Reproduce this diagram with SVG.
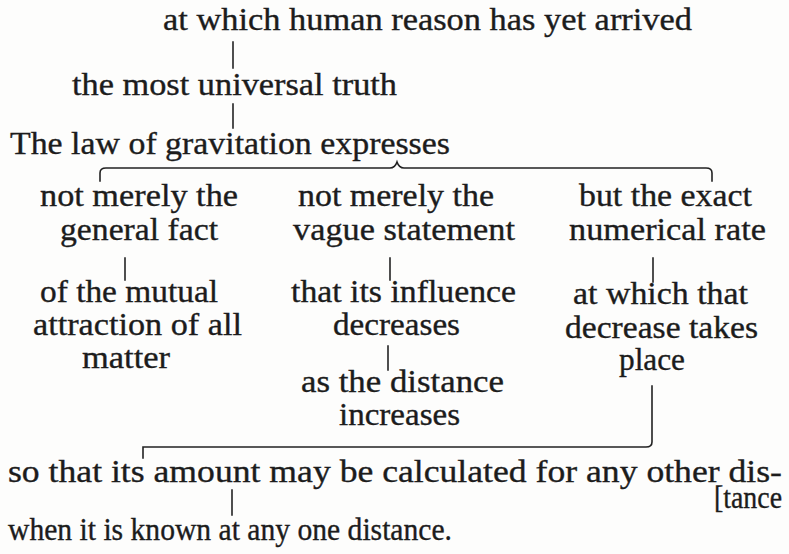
<svg xmlns="http://www.w3.org/2000/svg" width="789" height="554" viewBox="0 0 789 554">
<style>
.t{font-family:"Liberation Serif","Times New Roman",serif;font-size:31px;fill:#1c1c1c;stroke:#1c1c1c;stroke-width:0.35}
.c{fill:none;stroke:#222;stroke-width:1.6;stroke-linecap:square}
</style>
<rect x="0" y="0" width="789" height="554" fill="#fdfdfc"/>
<g id="connectors">
<line class="c" x1="233" y1="42" x2="233" y2="68"/>
<line class="c" x1="233" y1="104" x2="233" y2="128"/>
<path class="c" d="M100,181 L100,173 Q100,168 106,168 L390,168 Q395,168 397,162 Q399,168 404,168 L706,168 Q712,168 712,173 L712,181"/>
<line class="c" x1="125" y1="258" x2="125" y2="280"/>
<line class="c" x1="390" y1="258" x2="390" y2="280"/>
<line class="c" x1="653" y1="258" x2="653" y2="282"/>
<line class="c" x1="388" y1="346" x2="388" y2="370"/>
<path class="c" d="M652,386 L652,442 Q652,447 646,447 L143,447 L143,458"/>
<line class="c" x1="232" y1="490" x2="232" y2="515"/>
</g>
<g id="n1"><text class="t" x="163" y="30" textLength="529" lengthAdjust="spacingAndGlyphs">at which human reason has yet arrived</text></g>
<g id="n2"><text class="t" x="72" y="95" textLength="325" lengthAdjust="spacingAndGlyphs">the most universal truth</text></g>
<g id="n3"><text class="t" x="10" y="154" textLength="440" lengthAdjust="spacingAndGlyphs">The law of gravitation expresses</text></g>
<g id="n4">
<text class="t" x="40" y="206" textLength="198" lengthAdjust="spacingAndGlyphs">not merely the</text>
<text class="t" x="60" y="240" textLength="158" lengthAdjust="spacingAndGlyphs">general fact</text>
</g>
<g id="n5">
<text class="t" x="298" y="206" textLength="196" lengthAdjust="spacingAndGlyphs">not merely the</text>
<text class="t" x="293" y="240" textLength="222" lengthAdjust="spacingAndGlyphs">vague statement</text>
</g>
<g id="n6">
<text class="t" x="579" y="206" textLength="173" lengthAdjust="spacingAndGlyphs">but the exact</text>
<text class="t" x="569" y="240" textLength="197" lengthAdjust="spacingAndGlyphs">numerical rate</text>
</g>
<g id="n7">
<text class="t" x="40" y="302" textLength="178" lengthAdjust="spacingAndGlyphs">of the mutual</text>
<text class="t" x="33" y="335" textLength="209" lengthAdjust="spacingAndGlyphs">attraction of all</text>
<text class="t" x="82" y="368" textLength="88" lengthAdjust="spacingAndGlyphs">matter</text>
</g>
<g id="n8">
<text class="t" x="291" y="302" textLength="225" lengthAdjust="spacingAndGlyphs">that its influence</text>
<text class="t" x="333" y="335" textLength="127" lengthAdjust="spacingAndGlyphs">decreases</text>
</g>
<g id="n9">
<text class="t" x="573" y="304" textLength="175" lengthAdjust="spacingAndGlyphs">at which that</text>
<text class="t" x="565" y="338" textLength="193" lengthAdjust="spacingAndGlyphs">decrease takes</text>
<text class="t" x="619" y="370" textLength="66" lengthAdjust="spacingAndGlyphs">place</text>
</g>
<g id="n10">
<text class="t" x="301" y="392" textLength="203" lengthAdjust="spacingAndGlyphs">as the distance</text>
<text class="t" x="339" y="425" textLength="121" lengthAdjust="spacingAndGlyphs">increases</text>
</g>
<g id="n11">
<text class="t" x="8" y="482" textLength="774" lengthAdjust="spacingAndGlyphs">so that its amount may be calculated for any other dis-</text>
<text class="t" x="714" y="508" textLength="68" lengthAdjust="spacingAndGlyphs">[tance</text>
</g>
<g id="n12"><text class="t" x="8" y="540" textLength="444" lengthAdjust="spacingAndGlyphs">when it is known at any one distance.</text></g>
</svg>
